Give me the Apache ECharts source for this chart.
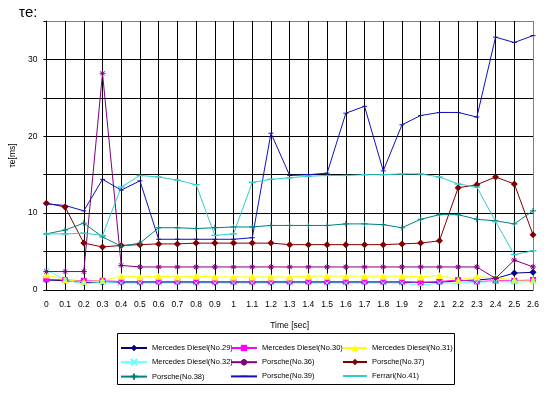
<!DOCTYPE html>
<html><head><meta charset="utf-8">
<script src="https://cdn.jsdelivr.net/npm/echarts@6/dist/echarts.min.js"></script>
<style>html,body{margin:0;padding:0;background:#fff}#c{width:557px;height:397px}</style>
</head><body><div id="c"></div>
<script>
const categories = ['0','0.1','0.2','0.3','0.4','0.5','0.6','0.7','0.8','0.9','1','1.1','1.2','1.3','1.4','1.5','1.6','1.7','1.8','1.9','2','2.1','2.2','2.3','2.4','2.5','2.6'];
const merc29 = [1.3,1.2,1.0,1.0,1.0,1.0,1.0,1.0,1.0,1.0,1.0,1.0,1.0,1.0,1.0,1.0,1.0,1.0,1.0,1.0,1.0,1.0,1.2,1.3,1.5,2.2,2.3];
const merc30 = [1.4,1.3,1.2,1.2,1.1,1.1,1.1,1.1,1.1,1.1,1.1,1.1,1.1,1.1,1.1,1.1,1.1,1.1,1.1,1.1,1.0,1.1,1.3,1.1,1.2,1.2,1.3];
const merc31 = [2.0,1.3,1.1,1.2,1.8,1.7,1.8,1.7,1.8,1.7,1.7,1.7,1.7,1.7,1.8,1.8,1.8,1.8,1.8,1.8,1.7,1.9,1.3,1.7,1.6,1.3,1.3];
const merc32 = [2.6,1.3,0.8,1.0,0.9,0.9,0.9,0.9,0.9,0.9,0.9,0.9,0.9,0.9,0.9,0.9,0.9,0.9,0.9,0.9,0.6,0.9,0.9,1.0,1.1,1.0,1.1];
const por36 = [2.4,2.4,2.4,28.2,3.2,3.0,3.0,3.0,3.0,3.0,3.0,3.0,3.0,3.0,3.0,3.0,3.0,3.0,3.0,3.0,3.0,3.0,3.0,3.0,1.5,3.9,3.0];
const por37 = [11.3,10.8,6.1,5.6,5.8,5.9,6.0,6.0,6.1,6.1,6.1,6.1,6.1,5.9,5.9,5.9,5.9,5.9,5.9,6.0,6.1,6.4,13.3,13.7,14.7,13.8,7.2];
const por38 = [7.3,7.8,8.7,6.9,5.7,6.1,8.1,8.1,8.0,8.1,8.2,8.2,8.4,8.4,8.4,8.4,8.6,8.6,8.5,8.1,9.2,9.8,9.8,9.2,9.0,8.6,10.3];
const por39 = [11.2,11.0,10.3,14.4,13.0,14.2,6.6,6.6,6.6,6.6,6.6,6.8,20.4,14.9,15.0,15.2,23.0,23.9,15.5,21.5,22.7,23.1,23.1,22.5,32.9,32.2,33.1];
const fer41 = [7.3,7.3,7.4,7.1,13.4,14.9,14.7,14.3,13.7,7.1,7.3,14.0,14.4,14.6,14.8,14.9,14.9,15.0,15.0,15.1,15.1,14.7,13.8,13.4,8.9,4.6,5.1];

const FONT = 'Liberation Sans, sans-serif';
const DASH = 'path://M0,0M0,4L10,4L10,6L0,6ZM10,10';
function mk(name, data, color, symbol, size, bw) {
  return {
    name, type: 'line', data, symbol, symbolSize: size,
    lineStyle: { color, width: 1 },
    itemStyle: { color, borderColor: color, borderWidth: bw },
    emphasis: { disabled: true }
  };
}
const series = [
  mk('Mercedes Diesel(No.29)', merc29, '#000080', 'diamond', 7, 0),
  mk('Mercedes Diesel(No.30)', merc30, '#FF00FF', 'rect', 6, 0),
  mk('Mercedes Diesel(No.31)', merc31, '#FFFF00', 'triangle', 7, 0),
  mk('Mercedes Diesel(No.32)', merc32, '#66FFFF', 'path://M0,0L10,10M10,0L0,10', 5, 1),
  mk('Porsche(No.36)', por36, '#800080', 'path://M5,0L5,10M0,5L10,5M1.5,1.5L8.5,8.5M8.5,1.5L1.5,8.5', 6, 1),
  mk('Porsche(No.37)', por37, '#800000', 'diamond', 7, 0),
  mk('Porsche(No.38)', por38, '#008080', 'path://M5,0L5,10M0,5L10,5', 6, 1),
  mk('Porsche(No.39)', por39, '#1010C0', DASH, 5, 0),
  mk('Ferrari(No.41)', fer41, '#33CCCC', DASH, 7, 0)
];
function leg(left, names, w) {
  return {
    orient: 'vertical', left, top: 344, padding: 0, itemGap: 6, itemWidth: w, itemHeight: 8,
    data: names, selectedMode: false,
    textStyle: { fontFamily: FONT, fontSize: 7.5, color: '#000' }
  };
}
const xLineColors = categories.map((c,i) => i === categories.length - 1 ? '#808080' : '#000');
const chart = echarts.init(document.getElementById('c'));
chart.setOption({
  animation: false,
  backgroundColor: '#fff',
  grid: { left: 37, top: 21, right: 24, bottom: 107, show: false },
  xAxis: {
    type: 'category', data: categories, boundaryGap: false,
    name: 'Time [sec]', nameLocation: 'middle', nameGap: 31,
    nameTextStyle: { fontFamily: FONT, fontSize: 8.5, color: '#000' },
    axisLine: { lineStyle: { color: '#000' } },
    axisTick: { show: false },
    axisLabel: { fontFamily: FONT, fontSize: 8.5, color: '#000', margin: 10, interval: 0 },
    splitLine: { show: true, interval: 0, lineStyle: { color: xLineColors, width: 1 } }
  },
  yAxis: {
    type: 'value', min: 0, max: 35, interval: 5,
    name: 'τe[ms]', nameLocation: 'middle', nameGap: 26, nameRotate: 90,
    nameTextStyle: { fontFamily: FONT, fontSize: 8.5, color: '#000' },
    axisLine: { show: true, lineStyle: { color: '#000' } },
    axisTick: { show: true, length: 3, lineStyle: { color: '#000' } },
    axisLabel: { fontFamily: FONT, fontSize: 8.5, color: '#000', margin: 9,
      formatter: v => (v % 10 === 0 ? String(v) : '') },
    splitLine: { show: true, lineStyle: { color: ['#000','#000','#000','#000','#000','#000','#000','#808080'], width: 1 } }
  },
  legend: [
    leg(120, ['Mercedes Diesel(No.29)', 'Mercedes Diesel(No.32)', 'Porsche(No.38)'], 26),
    leg(230, ['Mercedes Diesel(No.30)', 'Porsche(No.36)', 'Porsche(No.39)'], 26),
    leg(342, ['Mercedes Diesel(No.31)', 'Porsche(No.37)', 'Ferrari(No.41)'], 24)
  ],
  graphic: [
    { type: 'rect', shape: { x: 117.5, y: 333.5, width: 337, height: 51 },
      style: { fill: 'none', stroke: '#000', lineWidth: 1 }, silent: true },
    { type: 'text', left: 19, top: 5,
      style: { text: 'τe:', fontFamily: FONT, fontSize: 15, fill: '#000' } }
  ],
  series
});
</script></body></html>
